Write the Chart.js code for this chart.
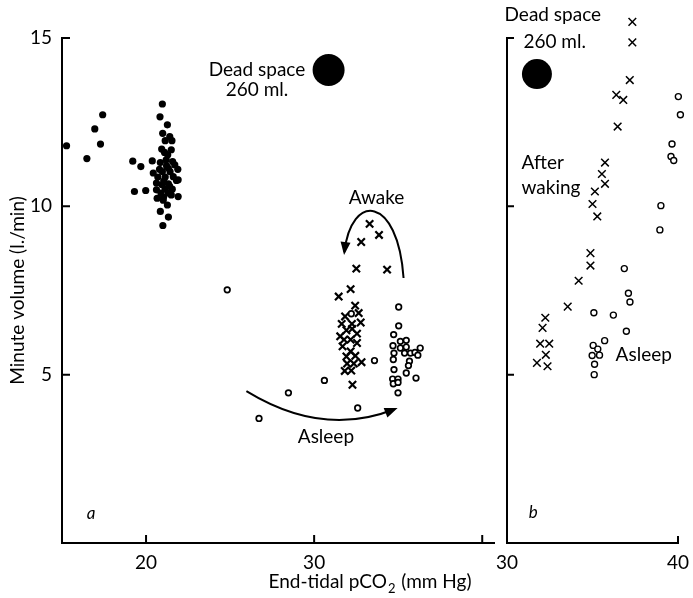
<!DOCTYPE html>
<html>
<head>
<meta charset="utf-8">
<script src="https://cdn.jsdelivr.net/npm/chart.js@4.4.0/dist/chart.umd.min.js"></script>
<style>
  body { margin: 0; background: #fff; }
  #wrap { position: relative; width: 693px; height: 598px; }
  canvas { position: absolute; top: 0; }
  #chartA { left: 0; }
  #chartB { left: 490px; }
</style>
</head>
<body>
<div id="wrap">
  <canvas id="chartA" width="510" height="598"></canvas>
  <canvas id="chartB" width="203" height="598"></canvas>
</div>
<script>
'use strict';

// panel a : [end-tidal pCO2, minute volume]
let aDots = [
  [15.27, 11.80], [16.48, 11.42], [16.95, 12.30], [17.29, 11.85], [17.42, 12.72],
  [19.21, 11.34], [19.69, 11.18], [19.31, 10.44], [19.98, 10.47], [20.37, 11.35],
  [20.97, 13.04], [20.83, 12.66], [21.27, 12.42], [20.99, 12.17], [21.41, 12.07],
  [21.14, 11.95], [21.54, 11.95], [20.93, 11.70], [21.50, 11.68], [21.29, 11.53],
  [20.85, 11.30], [21.20, 11.38], [21.58, 11.33], [21.71, 11.23], [21.33, 11.13],
  [20.43, 10.99], [20.97, 11.03], [21.43, 11.03], [21.89, 11.10], [20.70, 10.87],
  [21.14, 10.87], [21.62, 10.88], [21.91, 10.79], [20.62, 10.69], [20.95, 10.64],
  [21.33, 10.67], [21.81, 10.77], [20.62, 10.49], [21.14, 10.51], [21.56, 10.51],
  [20.89, 10.39], [21.33, 10.39], [20.66, 10.24], [21.04, 10.27], [21.50, 10.34],
  [21.91, 10.29], [21.27, 10.04], [20.85, 9.85], [21.33, 9.68], [21.00, 9.43],
  [21.10, 11.60], [21.02, 10.18], [21.40, 10.60], [20.80, 11.10], [21.22, 11.20],
  [21.05, 10.75]
];
let aCrosses = [
  [33.30, 9.48], [33.86, 9.15], [32.80, 8.94], [32.51, 8.15], [34.34, 8.12],
  [32.17, 7.54], [31.46, 7.32], [32.44, 7.05], [31.84, 6.73], [32.65, 6.83],
  [31.64, 6.51], [32.25, 6.51], [32.77, 6.55], [31.92, 6.32], [32.26, 6.36],
  [31.55, 6.14], [32.55, 6.22], [31.78, 6.04], [32.17, 6.04], [31.69, 5.84],
  [32.55, 5.94], [32.17, 5.69], [31.92, 5.54], [32.45, 5.56], [32.82, 5.37],
  [31.96, 5.33], [32.36, 5.33], [31.82, 5.11], [32.21, 5.12], [32.28, 4.70]
];
let aCircles = [
  [24.83, 7.52], [26.72, 3.70], [28.47, 4.46], [30.61, 4.83], [32.59, 4.01],
  [33.59, 5.42], [32.21, 6.81], [35.03, 7.01], [35.03, 6.45], [34.73, 6.19],
  [35.13, 5.99], [35.48, 6.02], [34.69, 5.86], [35.13, 5.79], [35.48, 5.82],
  [34.75, 5.64], [35.38, 5.64], [35.73, 5.64], [36.31, 5.79], [36.00, 5.66],
  [36.17, 5.58], [34.71, 5.45], [35.67, 5.40], [35.61, 5.27], [34.75, 5.15],
  [35.48, 5.05], [36.06, 4.90], [34.67, 4.87], [34.99, 4.87], [34.71, 4.73],
  [34.99, 4.77], [34.99, 4.46]
];
let aDeadSpace = [[30.86, 14.05]];

// panel b
let bCrosses = [
  [37.33, 15.48], [37.33, 14.87], [37.18, 13.75], [36.39, 13.31], [36.80, 13.16],
  [36.47, 12.37], [35.73, 11.30], [35.55, 10.96], [35.73, 10.67], [35.14, 10.44],
  [35.00, 10.07], [35.28, 9.70], [34.88, 8.61], [34.88, 8.24], [34.19, 7.79],
  [33.55, 7.02], [32.24, 6.69], [32.08, 6.39], [31.94, 5.92], [32.47, 5.92],
  [32.27, 5.59], [31.75, 5.35], [32.37, 5.25]
];
let bCircles = [
  [40.02, 13.26], [40.14, 12.72], [39.65, 11.85], [39.59, 11.48], [39.75, 11.36],
  [39.00, 10.02], [38.94, 9.30], [36.86, 8.15], [37.10, 7.42], [37.19, 7.16],
  [35.08, 6.84], [36.22, 6.77], [36.98, 6.29], [35.71, 6.01], [35.04, 5.87],
  [35.31, 5.76], [34.98, 5.57], [35.41, 5.58], [35.12, 5.31], [35.10, 5.00]
];
let bDeadSpace = [[31.75, 13.93]];

// ticks
let yTicks = [5, 10, 15];
let xTicksA = [20, 30, 40];
let xLabelsA = ['20', '30', ''];
let xTicksB = [30, 40];
let xLabelsB = ['30', '40'];

Chart.defaults.font.family = 'Lato';
Chart.defaults.font.size = 19;
Chart.defaults.color = '#000';

function toPts (arr) {
    return arr.map(p => ({x: p[0], y: p[1]}));
}

// ticks pointing into the plot
let inTicks = {
    id: 'inTicks',
    afterDraw (chart, args, opts) {
        let ctx = chart.ctx;
        let area = chart.chartArea;
        let xs = chart.scales.x;
        let ys = chart.scales.y;
        ctx.save();
        ctx.strokeStyle = '#000';
        ctx.lineWidth = 2;
        ctx.beginPath();
        xs.ticks.forEach(t => {
            let px = xs.getPixelForValue(t.value);
            if (px <= area.left + 1) return;
            ctx.moveTo(px, area.bottom);
            ctx.lineTo(px, area.bottom - opts.len);
        });
        ys.ticks.forEach(t => {
            let py = ys.getPixelForValue(t.value);
            ctx.moveTo(area.left, py);
            ctx.lineTo(area.left + opts.len, py);
        });
        ctx.stroke();
        ctx.restore();
    }
};

// points that sit past the plot edge are skipped by chart.js, draw them anyway
let outside = {
    id: 'outside',
    afterDatasetsDraw (chart) {
        let area = chart.chartArea;
        let whole = {left: 0, top: 0, right: chart.width, bottom: chart.height};
        chart.getSortedVisibleDatasetMetas().forEach(meta => {
            meta.data.forEach(el => {
                let r = el.options.radius + el.options.borderWidth;
                if (el.y < area.top - r || el.x > area.right + r) {
                    el.draw(chart.ctx, whole);
                }
            });
        });
    }
};

// text and arrows placed in data units
let notes = {
    id: 'notes',
    afterDraw (chart, args, opts) {
        let ctx = chart.ctx;
        let xs = chart.scales.x;
        let ys = chart.scales.y;
        let P = p => [xs.getPixelForValue(p[0]), ys.getPixelForValue(p[1])];
        ctx.save();
        ctx.fillStyle = '#000';
        ctx.strokeStyle = '#000';
        ctx.textBaseline = 'middle';
        (opts.texts || []).forEach(t => {
            let p = P(t.at);
            ctx.font = t.font || '19px Lato';
            ctx.textAlign = t.align || 'center';
            ctx.fillText(t.text, p[0], p[1]);
        });
        (opts.arrows || []).forEach(a => {
            let pts = a.path.map(P);
            ctx.lineWidth = 2;
            ctx.beginPath();
            ctx.moveTo(pts[0][0], pts[0][1]);
            if (pts.length == 4) {
                ctx.bezierCurveTo(pts[1][0], pts[1][1], pts[2][0], pts[2][1], pts[3][0], pts[3][1]);
            } else {
                ctx.quadraticCurveTo(pts[1][0], pts[1][1], pts[2][0], pts[2][1]);
            }
            ctx.stroke();
            let end = pts[pts.length - 1];
            let prev = pts[pts.length - 2];
            let ang = Math.atan2(end[1] - prev[1], end[0] - prev[0]);
            ctx.beginPath();
            ctx.moveTo(end[0] + 3 * Math.cos(ang), end[1] + 3 * Math.sin(ang));
            ctx.lineTo(end[0] - 10 * Math.cos(ang) + 5 * Math.sin(ang), end[1] - 10 * Math.sin(ang) - 5 * Math.cos(ang));
            ctx.lineTo(end[0] - 10 * Math.cos(ang) - 5 * Math.sin(ang), end[1] - 10 * Math.sin(ang) + 5 * Math.cos(ang));
            ctx.closePath();
            ctx.fill();
        });
        if (opts.xTitle) {
            // x title with a subscript 2, centred under both panels
            let t = opts.xTitle;
            ctx.font = '19px Lato';
            ctx.textAlign = 'left';
            ctx.textBaseline = 'alphabetic';
            let w1 = ctx.measureText(t[0]).width;
            let w3 = ctx.measureText(t[2]).width;
            ctx.font = '13px Lato';
            let w2 = ctx.measureText(t[1]).width;
            let x0 = opts.xTitleCenter - (w1 + w2 + w3) / 2;
            let y0 = chart.chartArea.bottom + 45;
            ctx.font = '19px Lato';
            ctx.fillText(t[0], x0, y0);
            ctx.font = '13px Lato';
            ctx.fillText(t[1], x0 + w1 + 1, y0 + 5);
            ctx.font = '19px Lato';
            ctx.fillText(t[2], x0 + w1 + w2 + 2, y0);
        }
        ctx.restore();
    }
};

function dotSet (data, r) {
    return {data: toPts(data), pointStyle: 'circle', pointRadius: r, pointHoverRadius: r,
            backgroundColor: '#000', borderColor: '#000', borderWidth: 0, clip: false};
}
function crossSet (data, r, w) {
    return {data: toPts(data), pointStyle: 'crossRot', pointRadius: r, pointHoverRadius: r,
            borderColor: '#000', borderWidth: w, clip: false};
}
function ringSet (data, r, w) {
    return {data: toPts(data), pointStyle: 'circle', pointRadius: r, pointHoverRadius: r,
            backgroundColor: '#fff', borderColor: '#000', borderWidth: w, clip: false};
}

function axes (min, max, xTicks, xLabels, yWidth, showY) {
    return {
        x: {
            type: 'linear', min: min, max: max,
            grid: {display: false, drawTicks: false},
            border: {display: true, color: '#000', width: 2},
            ticks: {autoSkip: false, maxRotation: 0, padding: 8, callback: (v, i) => xLabels[i]},
            afterBuildTicks: s => { s.ticks = xTicks.map(v => ({value: v})); },
            afterFit: s => { s.height = 55; s.paddingLeft = 0; s.paddingRight = 0; }
        },
        y: {
            type: 'linear', min: 0, max: 15,
            grid: {display: false, drawTicks: false},
            border: {display: true, color: '#000', width: 2},
            ticks: {display: showY, padding: 10},
            title: {display: showY, text: 'Minute volume (l./min)', font: {size: 19}, padding: {top: 6, bottom: 0}},
            afterBuildTicks: s => { s.ticks = yTicks.map(v => ({value: v})); },
            afterFit: s => { s.width = yWidth; s.paddingTop = 0; s.paddingBottom = 0; }
        }
    };
}

let chartA = new Chart(document.getElementById('chartA'), {
    type: 'scatter',
    data: {
        datasets: [
            dotSet(aDeadSpace, 16),
            dotSet(aDots, 3.6),
            crossSet(aCrosses, 5.2, 2.2),
            ringSet(aCircles, 2.8, 1.7)
        ]
    },
    options: {
        responsive: false,
        animation: false,
        layout: {padding: {left: 0, top: 38, right: 1, bottom: 0}},
        scales: axes(15, 40.7, xTicksA, xLabelsA, 62, true),
        plugins: {
            legend: {display: false},
            tooltip: {enabled: false},
            inTicks: {len: 8},
            notes: {
                texts: [
                    {text: 'Dead space', at: [26.6, 14.05]},
                    {text: '260 ml.', at: [26.6, 13.45]},
                    {text: 'Awake', at: [33.71, 10.25]},
                    {text: 'Asleep', at: [30.70, 3.15]},
                    {text: 'a', at: [16.73, 0.89], font: 'italic 17px Lato'}
                ],
                arrows: [
                    {path: [[35.32, 7.87], [34.98, 10.34], [32.21, 10.42], [31.80, 8.64]]},
                    {path: [[25.97, 4.51], [30.53, 3.12], [34.80, 3.98]]}
                ],
                xTitle: ['End-tidal pCO', '2', ' (mm Hg)'],
                xTitleCenter: 369
            }
        }
    },
    plugins: [inTicks, outside, notes]
});

let chartB = new Chart(document.getElementById('chartB'), {
    type: 'scatter',
    data: {
        datasets: [
            dotSet(bDeadSpace, 15),
            crossSet(bCrosses, 5.4, 1.5),
            ringSet(bCircles, 3, 1.4)
        ]
    },
    options: {
        responsive: false,
        animation: false,
        layout: {padding: {left: 0, top: 38, right: 14, bottom: 0}},
        scales: axes(30, 40, xTicksB, xLabelsB, 17, false),
        plugins: {
            legend: {display: false},
            tooltip: {enabled: false},
            inTicks: {len: 7},
            notes: {
                texts: [
                    {text: 'Dead space', at: [32.68, 15.68]},
                    {text: '260 ml.', at: [32.79, 14.88]},
                    {text: 'After', at: [30.85, 11.29], align: 'left'},
                    {text: 'waking', at: [30.85, 10.54], align: 'left'},
                    {text: 'Asleep', at: [36.35, 5.58], align: 'left'},
                    {text: 'b', at: [31.53, 0.92], font: 'italic 17px Lato'}
                ]
            }
        }
    },
    plugins: [inTicks, outside, notes]
});
</script>
</body>
</html>
